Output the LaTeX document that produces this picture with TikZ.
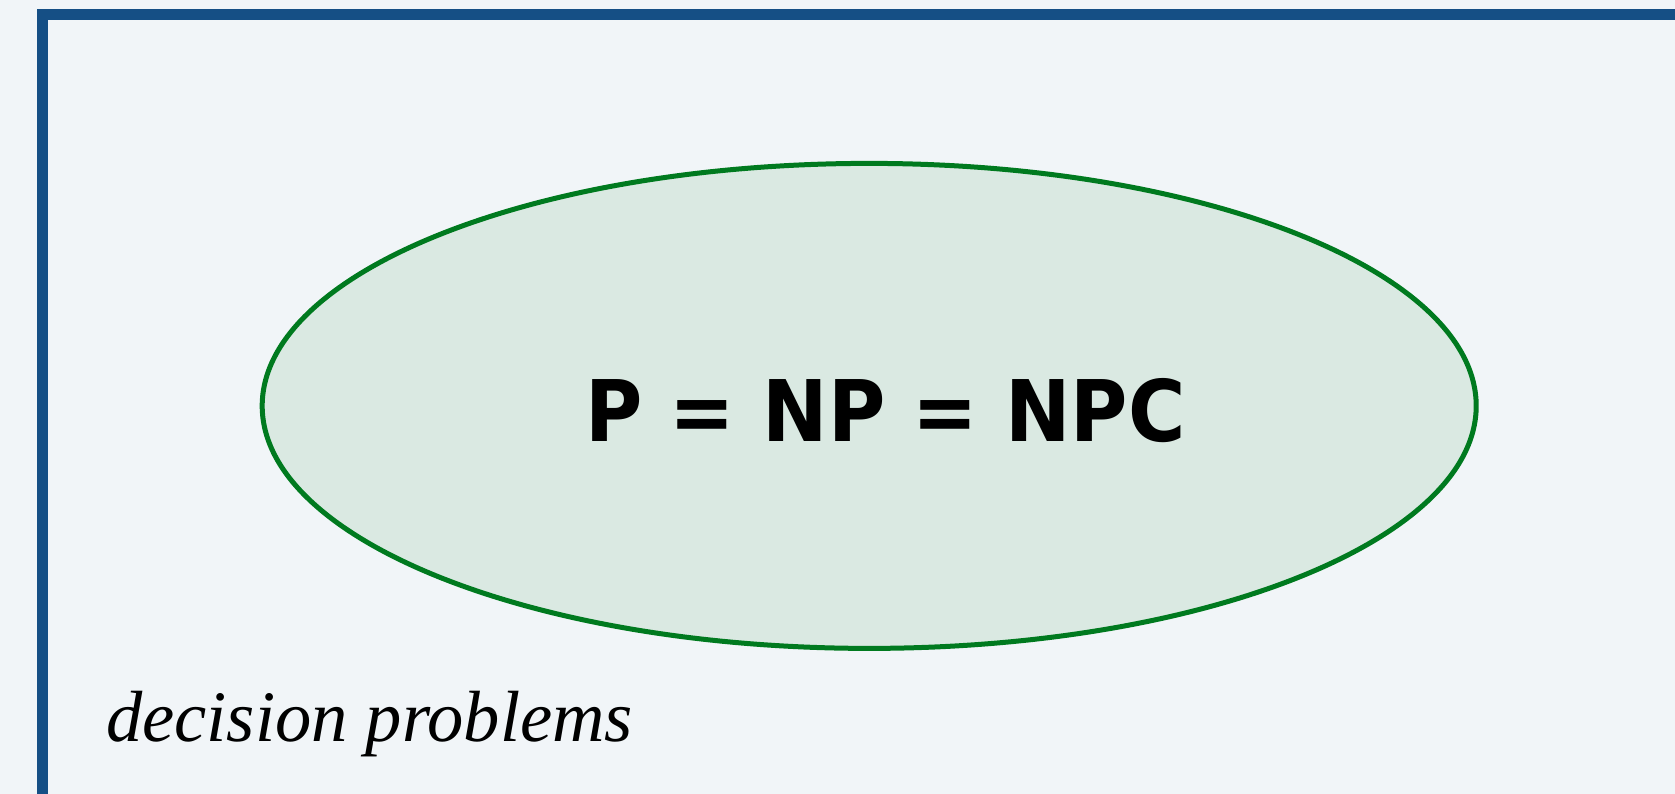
\documentclass[tikz,border=0pt]{standalone}
\usepackage{fontspec}
\setmainfont{Liberation Serif}
\newfontfamily\eqfont[FakeStretch=0.92]{DejaVu Sans}
\usepackage{tikz}
\usetikzlibrary{shapes,positioning,calc}
\definecolor{pagecolor}{RGB}{241, 245, 248}
\definecolor{framecolor}{RGB}{21, 79, 133}
\definecolor{setcolor}{RGB}{0, 122, 31}
\definecolor{setfill}{RGB}{218, 233, 226}

\begin{document}
\begin{tikzpicture}[x=1pt,y=1pt]
\useasboundingbox(0,0)rectangle(1675,794);
\clip(0,0)rectangle(1675,794);
\fill[pagecolor](0,0)rectangle(1675,794);
\draw[framecolor,line width=10.7pt](42.3,-30)--(42.3,779.2)--(1720,779.2);
\node[draw=setcolor,fill=setfill,line width=5pt,ellipse,minimum width=1214pt,minimum height=485pt,inner sep=0pt](pnp)at(869.2,388.1){};
\node[anchor=base,inner sep=0pt](eq)at(885.5,352){\eqfont\bfseries\fontsize{85}{100}\selectfont P = NP = NPC};
\node[anchor=base west,inner sep=0pt](dp)at(106,52){\itshape\fontsize{72.5}{86}\selectfont decision problems};
\end{tikzpicture}
\end{document}
